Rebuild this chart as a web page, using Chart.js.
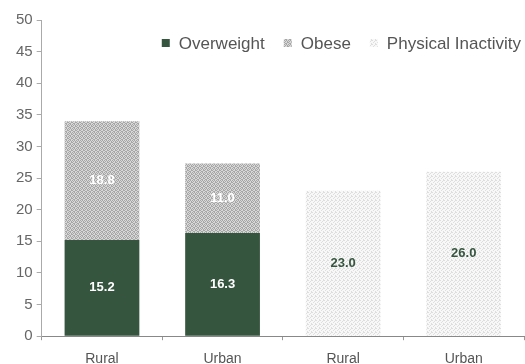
<!DOCTYPE html>
<html>
<head>
<meta charset="utf-8">
<script src="https://cdn.jsdelivr.net/npm/chart.js@4/dist/chart.umd.min.js"></script>
<style>
html,body{margin:0;padding:0;background:#fff;overflow:hidden;}
#wrap{width:525px;height:364px;}
</style>
</head>
<body>
<div id="wrap"><canvas id="c" width="525" height="364"></canvas></div>
<script>
const categories = ["Rural", "Urban", "Rural", "Urban"];
const overweight = [15.2, 16.3, null, null];
const obese = [18.8, 11.0, null, null];
const physicalInactivity = [null, null, 23.0, 26.0];
const seriesNames = ["Overweight", "Obese", "Physical Inactivity"];
const yTicks = [0, 5, 10, 15, 20, 25, 30, 35, 40, 45, 50];

const FONT = '"Liberation Sans", Arial, sans-serif';

function makePattern(bg, fg, size, cells) {
  const p = document.createElement('canvas');
  p.width = size; p.height = size;
  const g = p.getContext('2d');
  g.fillStyle = bg; g.fillRect(0, 0, size, size);
  g.fillStyle = fg;
  cells.forEach(([x, y]) => g.fillRect(x, y, 1, 1));
  return g.createPattern(p, 'repeat');
}
const ctx = document.getElementById('c').getContext('2d');
const obesePat = makePattern('#d8d8d8', '#a6a6a6', 4,
  [[0,0],[2,0],[1,1],[3,1],[0,2],[3,2],[1,3],[2,3]]);
const physPat = makePattern('#f8f8f8', '#dedede', 4,
  [[0,0],[2,1],[1,2],[3,3],[3,0]]);
const green = '#36553f';
const fills = [green, obesePat, physPat];

const labelPlugin = {
  id: 'valueLabels',
  afterDatasetsDraw(chart) {
    const c = chart.ctx;
    c.save();
    c.font = 'bold 13px ' + FONT;
    c.textAlign = 'center';
    c.textBaseline = 'middle';
    chart.data.datasets.forEach((ds, di) => {
      const meta = chart.getDatasetMeta(di);
      meta.data.forEach((bar, i) => {
        const v = ds.data[i];
        if (v == null) return;
        const cy = (bar.y + bar.base) / 2;
        c.fillStyle = di === 2 ? green : '#ffffff';
        c.fillText(v.toFixed(1), bar.x, cy);
      });
    });
    c.restore();
  }
};

const legendPlugin = {
  id: 'insideLegend',
  afterDraw(chart) {
    const c = chart.ctx;
    const area = chart.chartArea;
    c.save();
    c.font = '17px ' + FONT;
    c.textBaseline = 'middle';
    const box = 8, gapText = 9, gapItem = 19;
    const widths = chart.data.datasets.map(d => c.measureText(d.label).width);
    let total = 0;
    widths.forEach((w, i) => { total += box + gapText + w + (i < widths.length - 1 ? gapItem : 0); });
    let x = area.right - 3 - total;
    const y = area.top + 23;
    chart.data.datasets.forEach((d, i) => {
      c.fillStyle = d.backgroundColor;
      c.fillRect(x, y - box / 2, box, box);
      x += box + gapText;
      c.fillStyle = '#555';
      c.fillText(d.label, x, y + 1);
      x += widths[i] + gapItem;
    });
    c.restore();
  }
};

new Chart(ctx, {
  type: 'bar',
  data: {
    labels: categories,
    datasets: [
      { label: seriesNames[0], data: overweight, backgroundColor: fills[0], stack: 's' },
      { label: seriesNames[1], data: obese, backgroundColor: fills[1], stack: 's' },
      { label: seriesNames[2], data: physicalInactivity, backgroundColor: fills[2], stack: 's' }
    ]
  },
  options: {
    responsive: false,
    animation: false,
    layout: { padding: { left: 12, right: 1, top: 20, bottom: -15 } },
    datasets: { bar: { categoryPercentage: 0.62, barPercentage: 1 } },
    plugins: {
      tooltip: { enabled: false },
      legend: { display: false }
    },
    scales: {
      x: {
        stacked: true,
        grid: { display: true, drawOnChartArea: false, offset: true, tickLength: 4, color: '#999' },
        border: { color: '#888', width: 1 },
        ticks: { color: '#555', padding: 11, font: { size: 14, family: FONT } }
      },
      y: {
        stacked: true,
        min: 0, max: 50,
        afterBuildTicks(scale) { scale.ticks = yTicks.map(v => ({ value: v })); },
        grid: { display: true, drawOnChartArea: false, tickLength: 5, color: '#aaa' },
        border: { color: '#aaa', width: 1 },
        ticks: { color: '#666', padding: 4, font: { size: 15, family: FONT } }
      }
    }
  },
  plugins: [labelPlugin, legendPlugin]
});
</script>
</body>
</html>
